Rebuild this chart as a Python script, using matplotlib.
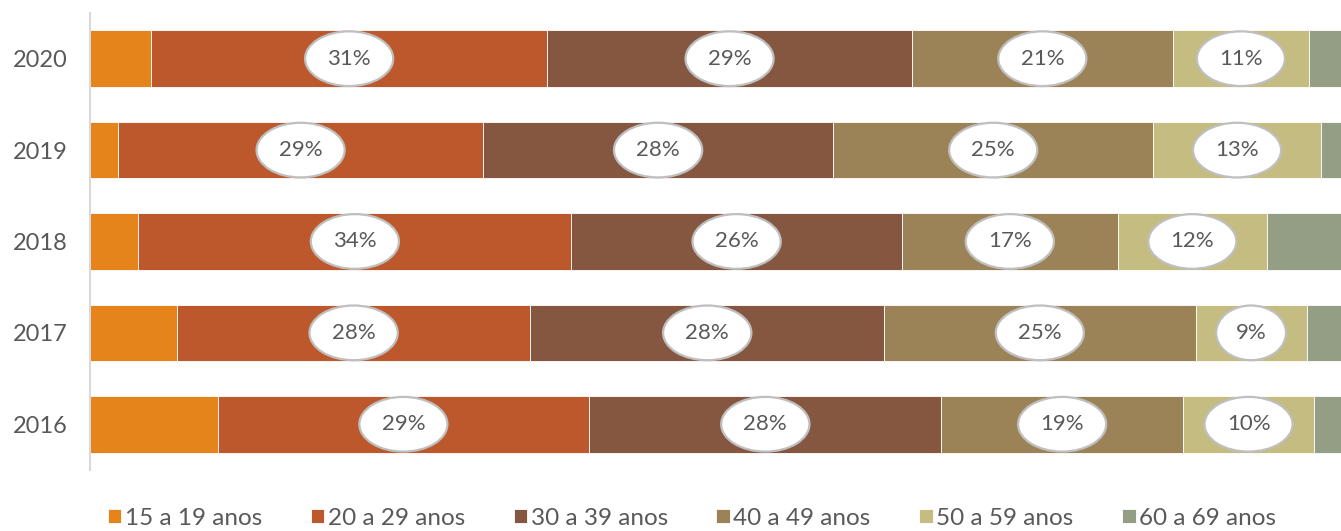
import matplotlib.pyplot as plt
import numpy as np

# dados (percentagens por faixa etária)
years = ['2016', '2017', '2018', '2019', '2020']
groups = ['15 a 19 anos', '20 a 29 anos', '30 a 39 anos',
          '40 a 49 anos', '50 a 59 anos', '60 a 69 anos']
v15_19 = [10.0, 6.8, 3.8, 2.2, 4.8]
v20_29 = [29.1, 27.7, 33.9, 28.6, 31.0]
v30_39 = [27.6, 27.7, 25.9, 27.4, 28.6]
v40_49 = [18.9, 24.4, 16.9, 25.1, 20.4]
v50_59 = [10.3, 8.7, 11.7, 13.1, 10.7]
v60_69 = [4.1, 4.7, 7.8, 3.6, 4.5]
labels_20_29 = ['29%', '28%', '34%', '29%', '31%']
labels_30_39 = ['28%', '28%', '26%', '28%', '29%']
labels_40_49 = ['19%', '25%', '17%', '25%', '21%']
labels_50_59 = ['10%', '9%', '12%', '13%', '11%']

colors = ['#E5841A', '#BC582C', '#855740', '#9B8357', '#C4BC80', '#949E85']
text_color = '#595959'

plt.rcParams['font.family'] = ['Lato', 'DejaVu Sans']

fig = plt.figure(figsize=(13.41, 5.31), dpi=100)
ax = fig.add_axes([0.0671, 0.115, 0.952, 0.8605])

series = [v15_19, v20_29, v30_39, v40_49, v50_59, v60_69]
labels = [None, labels_20_29, labels_30_39, labels_40_49, labels_50_59, None]
y = np.arange(len(years))
left = np.zeros(len(years))
for vals, col, name, labs in zip(series, colors, groups, labels):
    vals = np.array(vals)
    ax.barh(y, vals, left=left, height=0.62, color=col, edgecolor='white',
            linewidth=0.6, label=name)
    if labs is not None:
        for yi, (l, v, t) in enumerate(zip(left, vals, labs)):
            ax.text(l + v / 2, yi, t, ha='center', va='center', fontsize=16,
                    color=text_color,
                    bbox=dict(boxstyle='ellipse,pad=0.42', fc='white',
                              ec='#BFBFBF', lw=1.6))
    left = left + vals

ax.set_xlim(0, 100)
ax.set_ylim(-0.5, 4.5)
ax.set_yticks(y)
ax.set_yticklabels(years, fontsize=17, color=text_color)
ax.tick_params(axis='y', length=0, pad=16)
ax.set_xticks([])
for s in ['top', 'right', 'bottom']:
    ax.spines[s].set_visible(False)
ax.spines['left'].set_color('#D9D9D9')
ax.spines['left'].set_linewidth(1.5)

fig.legend(loc='center', bbox_to_anchor=(0.516, 0.024), ncol=6, frameon=False,
           fontsize=17.5, labelcolor=text_color, handlelength=0.55,
           handleheight=0.55, handletextpad=0.15, columnspacing=2.0,
           borderaxespad=0)

fig.savefig('out.png', dpi=100)
